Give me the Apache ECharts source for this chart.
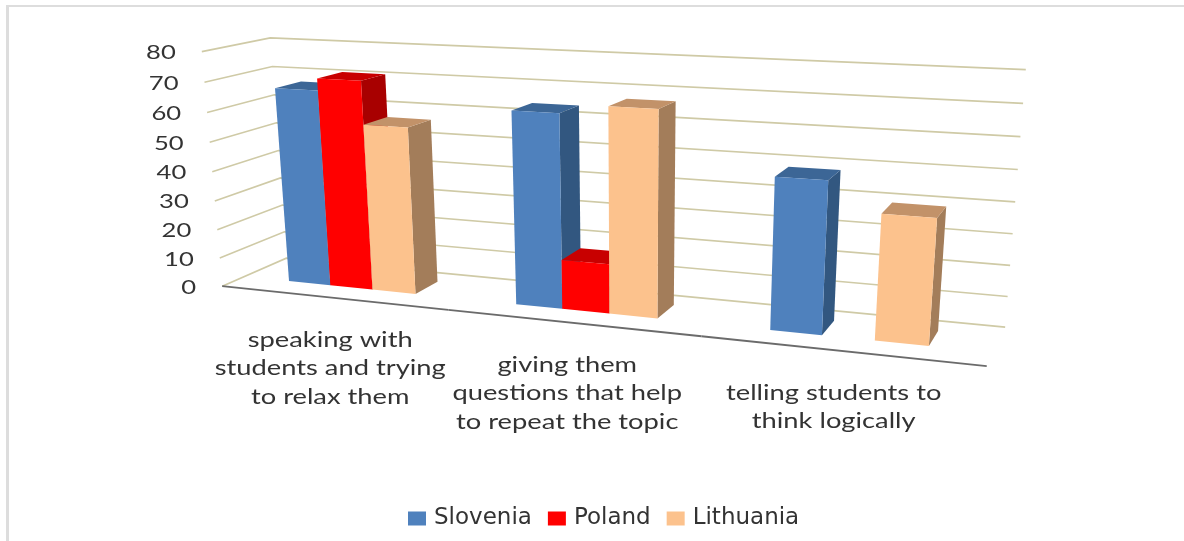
<!DOCTYPE html>
<html>
<head>
<meta charset="utf-8">
<style>html,body{margin:0;padding:0;background:#fff}#c{width:1184px;height:541px}</style>
<script src="https://cdn.jsdelivr.net/npm/echarts@6/dist/echarts.min.js"></script>
</head>
<body>
<div id="c"></div>
<script>
// ---- data ----
var categories = [
  'speaking with\nstudents and trying\nto relax them',
  'giving them\nquestions that help\nto repeat the topic',
  'telling students to\nthink logically'
];
var slovenia = [67, 64, 48.5];
var poland = [71, 16.5, null];
var lithuania = [56.5, 67, 39.5];
var tickValues = [0, 10, 20, 30, 40, 50, 60, 70, 80];

// ---- style ----
var faces = {
  Slovenia: {front: '#4F81BD', side: '#325780', top: '#3C6696'},
  Poland: {front: '#FF0000', side: '#A80000', top: '#C80000'},
  Lithuania: {front: '#FCC28D', side: '#A37D5A', top: '#C29269'}
};
var FONT = 'Lato';
var LABEL_SHIFT = [-2, -4, -6];

// ---- 3D perspective of the plot box: calibration of the camera ----
// [category position 0..3, value 0..80, depth 0..1, screen x, screen y]
var cameraCal = [
  [0,80,1,270,38],[0,70,1,272,66],[0,0,1,287,258],
  [3,80,1,1026,70],[3,40,1,1015,202],[3,0,1,1004,327],
  [0,80,0,202,52],[0,40,0,213,171],[0,0,0,223,286],[3,0,0,987,365],
  [0.22,0,0.33,288,282],[0.78,0,0.33,417,294],
  [1.22,0,0.33,516,306],[1.78,0,0.33,659,319],
  [2.22,0,0.33,770,330],[2.78,0,0.33,930,346],
  [0.78,0,0.7,438,282],[2.78,0,0.7,939,332]
];
function solve(A, b) {
  var n = b.length, i, j, k;
  for (i = 0; i < n; i++) {
    var m = i;
    for (k = i + 1; k < n; k++) if (Math.abs(A[k][i]) > Math.abs(A[m][i])) m = k;
    var t = A[i]; A[i] = A[m]; A[m] = t; t = b[i]; b[i] = b[m]; b[m] = t;
    for (k = i + 1; k < n; k++) {
      var f = A[k][i] / A[i][i];
      for (j = i; j < n; j++) A[k][j] -= f * A[i][j];
      b[k] -= f * b[i];
    }
  }
  var x = new Array(n);
  for (i = n - 1; i >= 0; i--) {
    var s = b[i];
    for (j = i + 1; j < n; j++) s -= A[i][j] * x[j];
    x[i] = s / A[i][i];
  }
  return x;
}
var P = (function () {
  var rows = [], rhs = [];
  cameraCal.forEach(function (r) {
    var X = r[0] / 3, Y = r[1] / 80, Z = r[2], u = r[3] / 1000, v = r[4] / 1000;
    rows.push([X, Y, Z, 1, 0, 0, 0, 0, -u * X, -u * Y, -u * Z]); rhs.push(u);
    rows.push([0, 0, 0, 0, X, Y, Z, 1, -v * X, -v * Y, -v * Z]); rhs.push(v);
  });
  var N = [], B = [], i, j, k;
  for (i = 0; i < 11; i++) {
    N.push([]); B.push(0);
    for (j = 0; j < 11; j++) {
      var s = 0;
      for (k = 0; k < rows.length; k++) s += rows[k][i] * rows[k][j];
      N[i].push(s);
    }
    for (k = 0; k < rows.length; k++) B[i] += rows[k][i] * rhs[k];
  }
  return solve(N, B);
})();
function project(c, v, d) {
  var X = c / 3, Y = v / 80, Z = d;
  var w = P[8] * X + P[9] * Y + P[10] * Z + 1;
  return [1000 * (P[0] * X + P[1] * Y + P[2] * Z + P[3]) / w,
          1000 * (P[4] * X + P[5] * Y + P[6] * Z + P[7]) / w];
}
// grid pixels given by the library's axes -> box coordinates -> screen
function world(api, cat, val) {
  var p = api.coord([cat, val]), o = api.coord([0, 0]), t = api.coord([0, 80]);
  var band = api.size([1, 0])[0];
  return {c: (p[0] - o[0]) / band + 0.5, v: (o[1] - p[1]) / (o[1] - t[1]) * 80};
}

var CLUSTER_L = 0.21, BAR_W = 0.19, D0 = 0.33, D1 = 0.73;

function barRender(name, idx) {
  return function (params, api) {
    var val = api.value(1);
    if (val == null || isNaN(val)) return;
    var w = world(api, api.value(0), val);
    var base = Math.floor(w.c);
    var c0 = base + CLUSTER_L + idx * BAR_W, c1 = c0 + BAR_W, v = w.v, f = faces[name];
    function poly(pts, color) {
      return {type: 'polygon', shape: {points: pts}, style: {fill: color}, silent: true};
    }
    return {type: 'group', children: [
      poly([project(c1, 0, D0), project(c1, 0, D1), project(c1, v, D1), project(c1, v, D0)], f.side),
      poly([project(c0, v, D0), project(c1, v, D0), project(c1, v, D1), project(c0, v, D1)], f.top),
      poly([project(c0, 0, D0), project(c1, 0, D0), project(c1, v, D0), project(c0, v, D0)], f.front)
    ]};
  };
}
function seriesOf(name, values, idx) {
  return {
    name: name, type: 'custom', coordinateSystem: 'cartesian2d', z: 3 + idx,
    itemStyle: {color: faces[name].front},
    renderItem: barRender(name, idx),
    data: values.map(function (v, i) { return [i, v]; }),
    encode: {x: 0, y: 1}, animation: false, silent: true
  };
}

var option = {
  animation: false,
  backgroundColor: '#fff',
  grid: {left: 200, right: 200, top: 50, bottom: 250},
  xAxis: {type: 'category', data: categories, show: false},
  yAxis: {type: 'value', min: 0, max: 80, interval: 10, show: false},
  legend: {
    data: ['Slovenia', 'Poland', 'Lithuania'], left: 403, top: 502,
    icon: 'rect', itemWidth: 18, itemHeight: 14, itemGap: 16, selectedMode: false,
    textStyle: {fontFamily: 'DejaVu Sans', fontSize: 23, color: '#333', padding: [0, 0, 0, 3]}
  },
  graphic: [
    {type: 'rect', shape: {x: 6, y: 5, width: 1178, height: 2}, style: {fill: '#dddddd'}, silent: true},
    {type: 'rect', shape: {x: 6, y: 5, width: 3, height: 536}, style: {fill: '#dddddd'}, silent: true}
  ],
  series: [
    { // walls and value-axis tick labels
      type: 'custom', coordinateSystem: 'cartesian2d', z: 1, silent: true, animation: false,
      data: tickValues.map(function (v) { return [0, v]; }),
      encode: {x: 0, y: 1},
      renderItem: function (params, api) {
        var val = api.value(1), v = world(api, 0, val).v;
        var a = project(0, v, 0), b = project(0, v, 1), c = project(3, v, 1);
        return {type: 'group', children: [
          {type: 'polyline', shape: {points: [a, b, c]}, silent: true,
           style: {stroke: '#CFCAA6', lineWidth: 1.6, fill: null}},
          {type: 'text', x: a[0] - 26, y: a[1] + 1, scaleX: 1.28, silent: true,
           style: {text: String(val), x: 0, y: 0, align: 'right', verticalAlign: 'middle',
                   fontFamily: FONT, fontSize: 20, fill: '#333'}}
        ]};
      }
    },
    { // category axis line and labels
      type: 'custom', coordinateSystem: 'cartesian2d', z: 2, silent: true, animation: false,
      data: categories.map(function (n, i) { return [i, 0]; }),
      encode: {x: 0, y: 1},
      renderItem: function (params, api) {
        var i = api.value(0), w = world(api, i, 0), p = project(w.c, 0, 0);
        var l = project(w.c - 0.5, 0, 0), r = project(w.c + 0.5, 0, 0);
        return {type: 'group', children: [
          {type: 'line', shape: {x1: l[0], y1: l[1], x2: r[0], y2: r[1]}, silent: true,
           style: {stroke: '#6b6b6b', lineWidth: 1.8}},
          {type: 'text', x: p[0] + LABEL_SHIFT[i], y: p[1] + 28, scaleX: 1.3, silent: true,
           style: {text: categories[i], x: 0, y: 0, align: 'center', verticalAlign: 'top',
                   lineHeight: 28.5, fontFamily: FONT, fontSize: 21, fill: '#333'}}
        ]};
      }
    },
    seriesOf('Slovenia', slovenia, 0),
    seriesOf('Poland', poland, 1),
    seriesOf('Lithuania', lithuania, 2)
  ]
};
echarts.init(document.getElementById('c'), null, {renderer: 'canvas'}).setOption(option);
</script>
</body>
</html>
